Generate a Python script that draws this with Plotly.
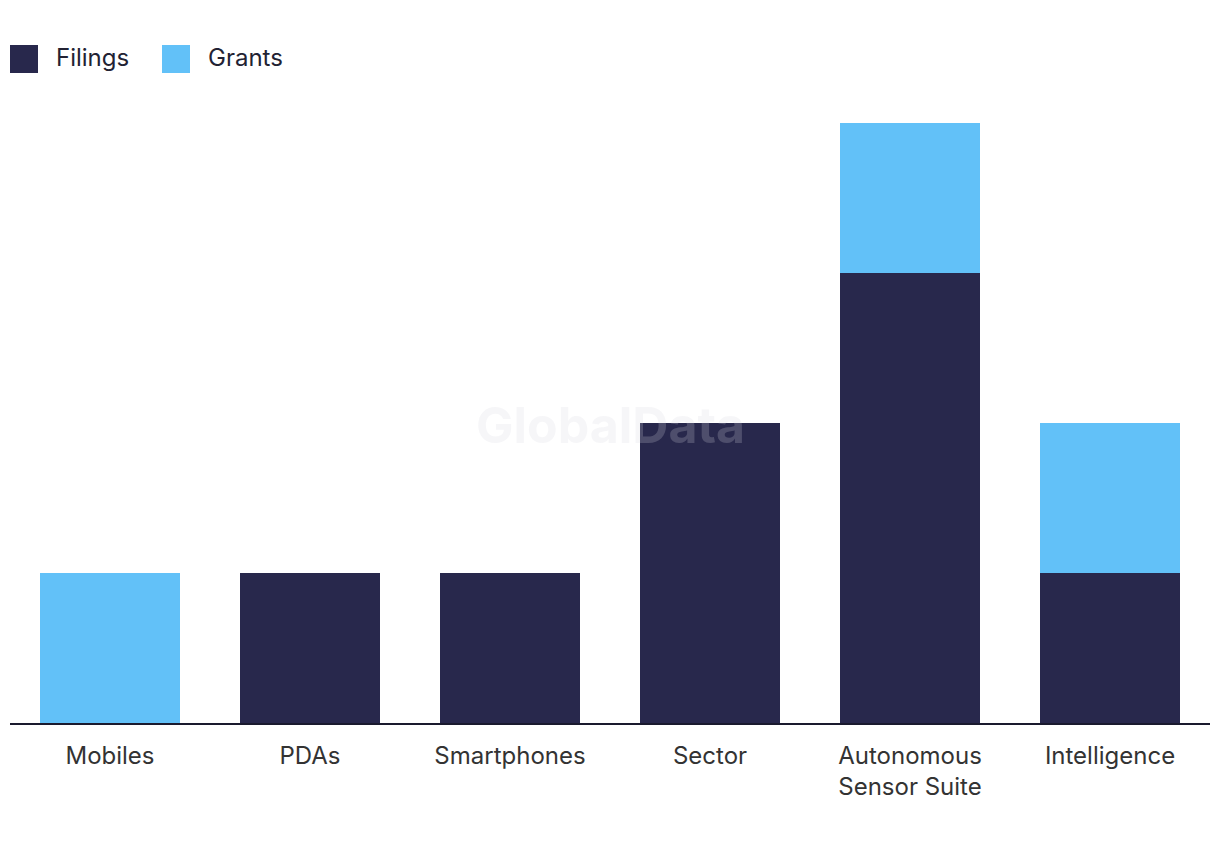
import plotly.graph_objects as go

categories = ["Mobiles", "PDAs", "Smartphones", "Sector", "Autonomous<br>Sensor Suite", "Intelligence"]
filings = [0, 1, 1, 2, 3, 1]
grants = [1, 0, 0, 0, 1, 1]

NAVY = "#28284c"
SKY = "#62c1f8"
FONT = "Inter, Roboto, 'Noto Sans', sans-serif"

# page body has an 8px margin; compensate so the chart lands where the reference has it
OFF = 8
W, H = 1212, 842
L, R, T, B = 10 - OFF, 10, 123 - OFF, 127
pw, ph = W - L - R, H - T - B


def px2x(px):
    return (px - OFF - L) / pw


def py2y(py):
    return (H - B - (py - OFF)) / ph


fig = go.Figure()
fig.add_trace(go.Bar(name="Filings", x=categories, y=filings, marker=dict(color=NAVY, line=dict(width=0))))
fig.add_trace(go.Bar(name="Grants", x=categories, y=grants, marker=dict(color=SKY, line=dict(width=0))))

shapes = []
annotations = []
legend_items = [("Filings", NAVY, 10, 54), ("Grants", SKY, 162, 206)]
for name, col, sx, tx in legend_items:
    shapes.append(dict(type="rect", xref="paper", yref="paper",
                       x0=px2x(sx), x1=px2x(sx + 28), y0=py2y(73), y1=py2y(45),
                       fillcolor=col, line=dict(width=0)))
    annotations.append(dict(text=name, xref="paper", yref="paper", x=px2x(tx), y=py2y(58),
                            xanchor="left", yanchor="middle", showarrow=False,
                            font=dict(size=24, color="#222233", family=FONT)))

annotations.append(dict(text="<b>GlobalData</b>", xref="paper", yref="paper", x=px2x(610), y=py2y(425),
                        xanchor="center", yanchor="middle", showarrow=False,
                        font=dict(size=50, color="rgba(215,215,225,0.22)", family=FONT)))

fig.update_layout(
    barmode="stack",
    bargap=0.3,
    width=W, height=H,
    margin=dict(l=L, r=R, t=T, b=B),
    paper_bgcolor="white",
    plot_bgcolor="white",
    showlegend=False,
    shapes=shapes,
    annotations=annotations,
    font=dict(family=FONT, size=24, color="#333333"),
    xaxis=dict(showgrid=False, showline=True, linecolor="#1a1a2e", linewidth=2,
               ticks="", ticklabelstandoff=10, tickfont=dict(size=24, color="#333333", family=FONT)),
    yaxis=dict(range=[0, 4], visible=False, showgrid=False, zeroline=False),
)

fig.write_html("out.html")
